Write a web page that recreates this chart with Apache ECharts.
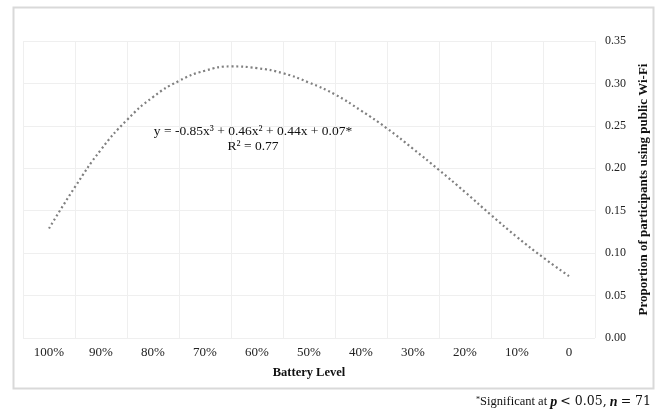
<!DOCTYPE html>
<html>
<head>
<meta charset="utf-8">
<script src="https://cdn.jsdelivr.net/npm/echarts@6/dist/echarts.min.js"></script>
<style>html,body{margin:0;padding:0;background:#fff}#c{width:660px;height:415px}</style>
</head>
<body>
<div id="c"></div>
<script>
// Category tick labels (battery level, high to low)
var categories = ['100%', '90%', '80%', '70%', '60%', '50%', '40%', '30%', '20%', '10%', '0'];
// Battery level (%) of read-off curve points
var batteryLevels = [100, 95, 90, 85, 80, 75, 70, 65, 60, 55, 50, 45, 40, 35, 30, 25, 20, 15, 10, 5, 0];
// Proportion values
var proportions = [0.129, 0.178, 0.222, 0.257, 0.284, 0.303, 0.315, 0.320, 0.318, 0.312, 0.301, 0.287, 0.268, 0.247, 0.223, 0.198, 0.172, 0.145, 0.119, 0.095, 0.073];
var yTicks = [0, 0.05, 0.10, 0.15, 0.20, 0.25, 0.30, 0.35];

var serif = '"Liberation Serif", "DejaVu Serif", serif';
var lineData = batteryLevels.map(function (b, i) { return [b, proportions[i]]; });

var chart = echarts.init(document.getElementById('c'), null, {renderer: 'canvas'});
chart.setOption({
  animation: false,
  backgroundColor: '#fff',
  textStyle: {fontFamily: serif},
  grid: {left: 23, right: 65, top: 41, bottom: 77, containLabel: false},
  xAxis: [{
    type: 'category',
    data: categories,
    boundaryGap: true,
    axisLine: {show: false},
    axisTick: {show: false},
    axisLabel: {color: '#222', fontSize: 13, fontFamily: serif, margin: 8},
    splitLine: {show: true, lineStyle: {color: '#efefef', width: 1}},
    name: 'Battery Level',
    nameLocation: 'middle',
    nameGap: 28,
    nameTextStyle: {color: '#111', fontSize: 12.5, fontWeight: 'bold', fontFamily: serif}
  }, {
    type: 'value',
    min: -5,
    max: 105,
    inverse: true,
    show: false
  }],
  yAxis: {
    type: 'value',
    position: 'right',
    min: yTicks[0],
    max: yTicks[yTicks.length - 1],
    interval: 0.05,
    axisLine: {show: false},
    axisTick: {show: false},
    axisLabel: {color: '#222', fontSize: 12, fontFamily: serif, margin: 10,
      formatter: function (v) { return v.toFixed(2); }},
    splitLine: {show: true, lineStyle: {color: '#efefef', width: 1}},
    name: 'Proportion of participants using public Wi-Fi',
    nameLocation: 'middle',
    nameRotate: 90,
    nameGap: 39,
    nameTextStyle: {color: '#111', fontSize: 13, fontWeight: 'bold', fontFamily: serif}
  },
  series: [{
    type: 'line',
    xAxisIndex: 1,
    data: lineData,
    smooth: 0.5,
    showSymbol: false,
    symbol: 'none',
    z: 2,
    lineStyle: {color: '#808080', width: 2.2, type: [2, 2.8], cap: 'butt'}
  }],
  graphic: [
    {type: 'rect', left: 11, top: 5, shape: {width: 640, height: 381},
     style: {fill: 'none', stroke: '#d9d9d9', lineWidth: 2}, silent: true, z: 0},
    {type: 'text', x: 253, y: 131, z: 10,
     style: {text: 'y = -0.85x³ + 0.46x² + 0.44x + 0.07*', fill: '#111', font: '13.5px ' + serif,
       align: 'center', verticalAlign: 'middle'}},
    {type: 'text', x: 253, y: 146, z: 10,
     style: {text: 'R² = 0.77', fill: '#111', font: '13.5px ' + serif,
       align: 'center', verticalAlign: 'middle'}},
    {type: 'text', right: 9, top: 395, z: 10,
     style: {
       text: '{s|*}Significant at {i|p} {m|< 0.05,} {i|n} {m|= 71}',
       fill: '#111',
       font: '12.5px ' + serif,
       rich: {
         s: {fontSize: 8, fontFamily: serif, fill: '#111', padding: [0, 0, 5, 0]},
         i: {fontSize: 14, fontStyle: 'italic', fontWeight: 'bold', fontFamily: serif, fill: '#111'},
         m: {fontSize: 12.5, fontFamily: '"DejaVu Serif", serif', fill: '#111'}
       }
     }}
  ]
});
</script>
</body>
</html>
